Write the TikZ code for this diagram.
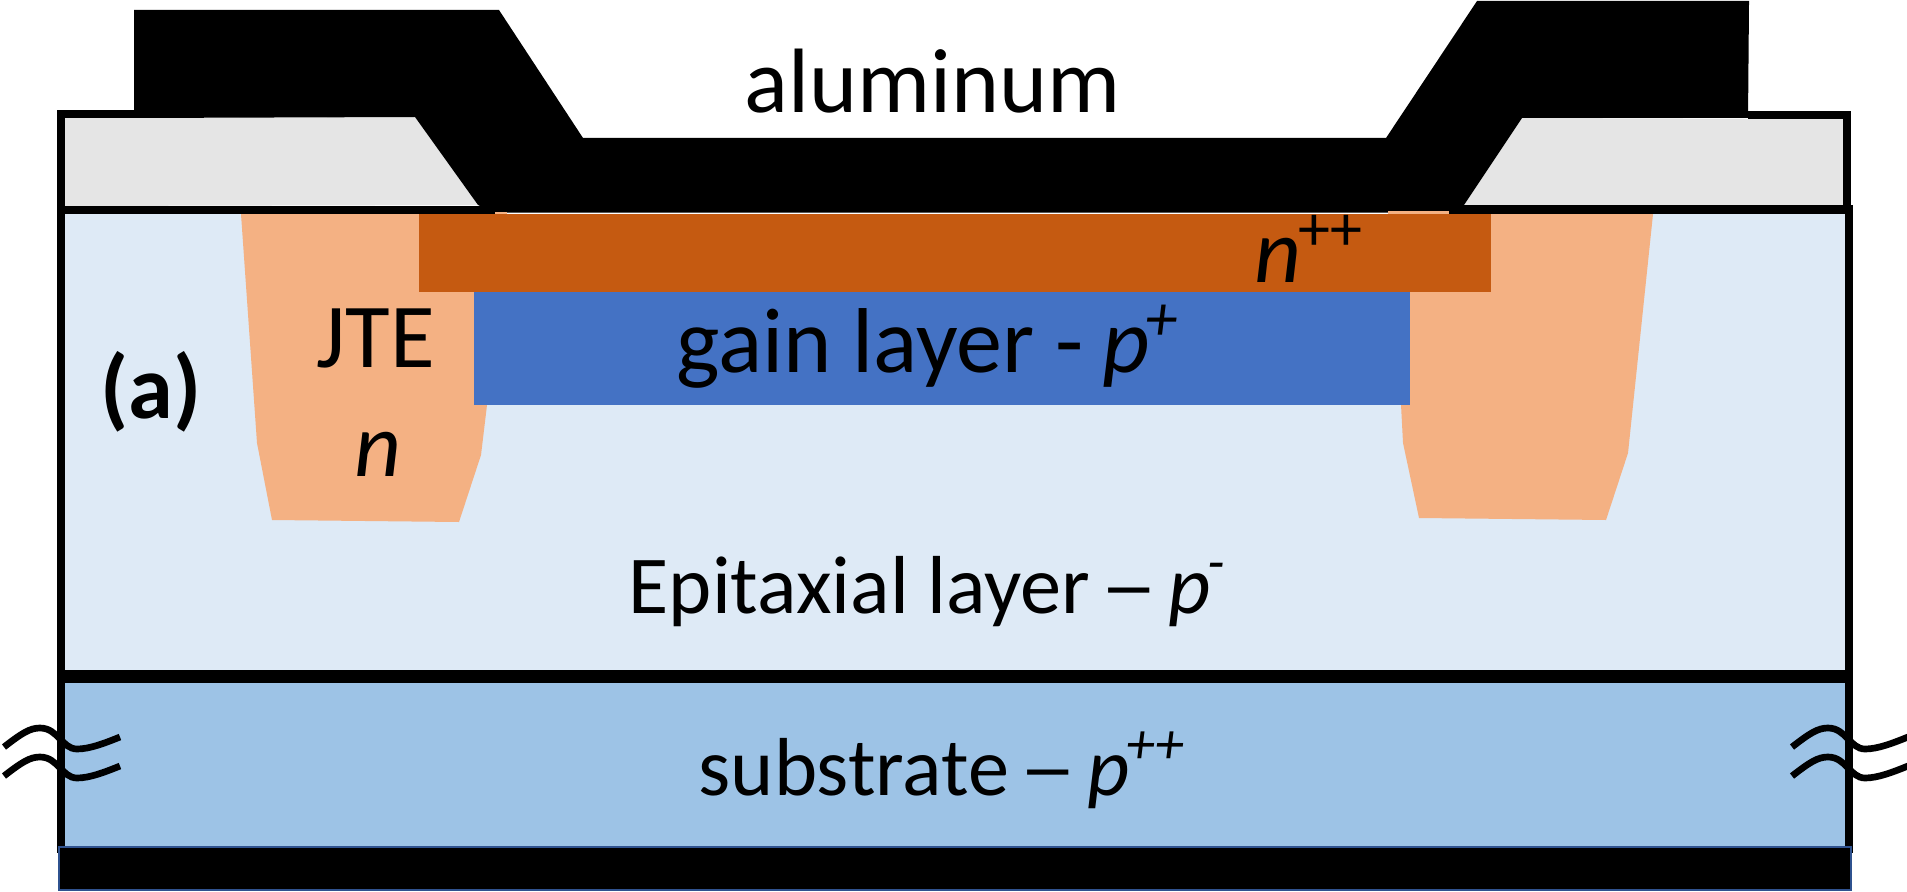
\documentclass[tikz,border=0pt]{standalone}
\usepackage{graphicx}
\usepackage{fontspec}
\setmainfont{Carlito}
\definecolor{cEpi}{RGB}{222,234,246}
\definecolor{cSub}{RGB}{157,195,230}
\definecolor{cGain}{RGB}{68,114,196}
\definecolor{cNpp}{RGB}{197,90,17}
\definecolor{cJte}{RGB}{244,177,131}
\definecolor{cOxide}{RGB}{229,229,229}
\definecolor{cEdge}{RGB}{47,82,143}
\tikzset{
  label/.style={inner sep=0pt,anchor=base west,font=\fontsize{26}{30}\selectfont},
  smalllabel/.style={label,font=\fontsize{23.4}{28}\selectfont},
  wave/.style={line width=1.9pt},
  wall/.style={fill=black,draw=none}
}
\newcommand{\breakmark}[1]{%
  \foreach \dy in {0,29} {
    \draw[wave,shift={(#1,\dy)}] (4,747)
      .. controls (22,733) and (30,728) .. (40,728)
      .. controls (58,728) and (62,749) .. (77,749)
      .. controls (90,749) and (105,743) .. (120,737);
  }}
\newcommand{\supit}[1]{\kern-1pt\textsuperscript{\textit{#1}}}
\newcommand{\longdash}{\kern-2.3pt\scalebox{1.4}[1]{–}\kern-2.3pt}

\begin{document}
\begin{tikzpicture}[x=0.01cm,y=-0.01cm]
  \useasboundingbox (0,0) rectangle (1907,891);
  % layers
  \fill[cEpi] (60,214) rectangle (1850,675);
  \fill[cSub] (60,678) rectangle (1850,846);
  \fill[cOxide] (65,118) -- (415,117) -- (478,205) -- (65,206) -- cycle;
  \fill[cOxide] (1522,118) -- (1843,119) -- (1843,206) -- (1464,205) -- cycle;
  % JTE implants
  \fill[cJte] (241,214) -- (507,214) -- (487,405) -- (481,455) -- (459,522)
    -- (272,520) -- (257,443) -- cycle;
  \fill[cJte] (1388,214) -- (1653,214) -- (1628,453) -- (1606,520) -- (1419,518)
    -- (1403,443) -- (1401,405) -- cycle;
  \fill[cGain] (474,292) rectangle (1410,405);
  \fill[cNpp] (419,214) rectangle (1491,292);
  % outline
  \fill[wall] (57,110) rectangle (134,118);
  \fill[wall] (57,110) rectangle (65,853);
  \fill[wall] (1748,111) rectangle (1851,119);
  \fill[wall] (1843,111) rectangle (1851,206);
  \fill[wall] (1845,205) rectangle (1853,853);
  \fill[wall] (57,206) rectangle (495,214);
  \fill[wall] (1449,205) rectangle (1853,214);
  \fill[wall] (57,670) rectangle (1853,683);
  % aluminum contact
  \fill[wall] (134,10) -- (499,10) -- (583,138) -- (1386,138) -- (1477,1) -- (1749,1)
    -- (1748,118) -- (1522,118) -- (1464,205) -- (1449,205) -- (1449,212.7) -- (495,212.7)
    -- (478,205) -- (415,117) -- (134,118) -- cycle;
  % implant tips over the contact edge
  \fill[cJte] (495,211.7) rectangle (507,214);
  \fill[cJte] (1388,211) rectangle (1449,214);
  % back contact
  \draw[fill=black,draw=cEdge,line width=0.45pt] (59,847) rectangle (1851,890);
  % broken substrate marks
  \breakmark{0}
  \breakmark{1788}
  % labels
  \node[label] (alu) at (744,113) {aluminum};
  \node[label] (npp) at (1254,282) {\textit{n}\kern-1pt\textsuperscript{++}};
  \node[label,font=\fontsize{26.2}{30}\selectfont] (gain) at (676,372)
      {gain layer - \kern-0.8pt\textit{p}\supit{+}};
  \node[label] (jte) at (316,367) {JTE};
  \node[label] (jten) at (354,476) {\textit{n}};
  \node[smalllabel] (epi) at (628,613) {Epitaxial layer \longdash{} \textit{p}\supit{-}};
  \node[smalllabel] (sub) at (698,795) {substrate \longdash{} \textit{p}\supit{++}};
  \node[label,font=\fontsize{25.7}{30}\selectfont\bfseries] (tag) at (100,418) {(a)};
\end{tikzpicture}
\end{document}
